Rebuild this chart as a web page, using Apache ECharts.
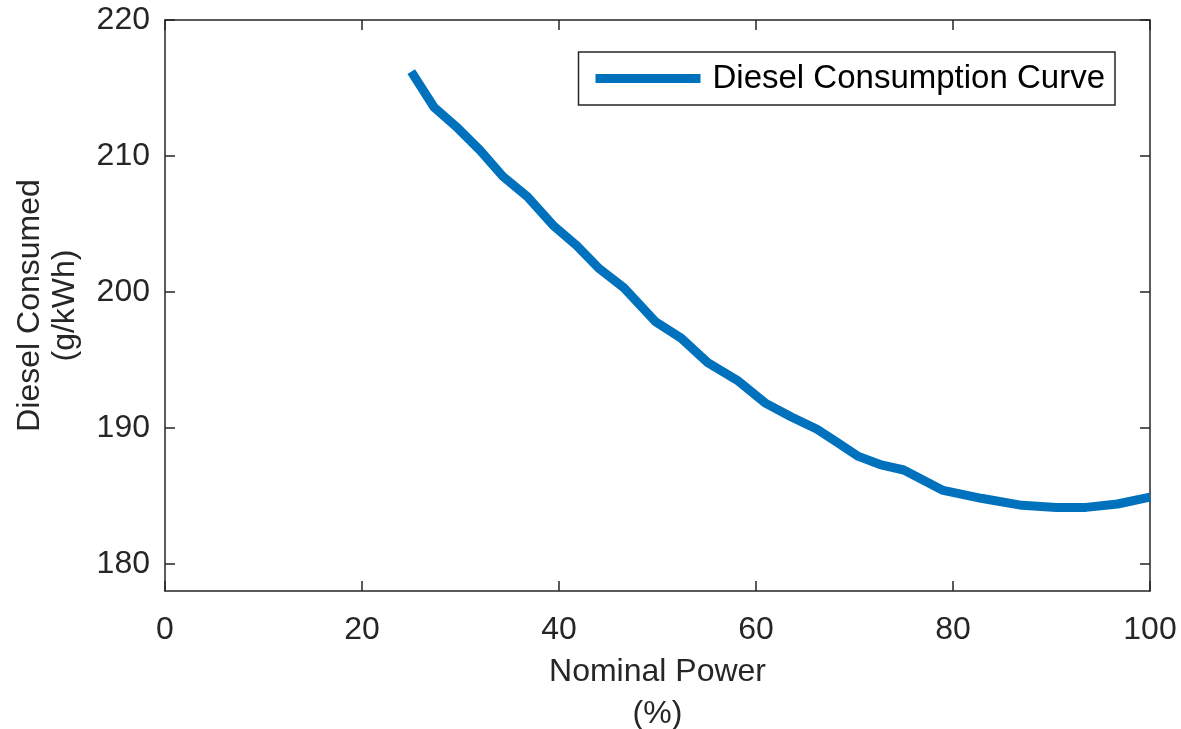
<!DOCTYPE html>
<html>
<head>
<meta charset="utf-8">
<script src="https://cdn.jsdelivr.net/npm/echarts@6/dist/echarts.min.js"></script>
<style>
  html, body { margin: 0; padding: 0; background: #fff; }
  #chart { width: 1181px; height: 729px; }
</style>
</head>
<body>
<div id="chart"></div>
<script>
// data
var powerPct = [25, 27.3, 29.5, 32, 34.3, 36.8, 39.4, 41.8, 44.1, 46.6, 49.8, 52.4, 55.1, 58.1, 61, 63.6, 66.2, 68.3, 70.4, 72.6, 75, 79, 83, 87, 90.5, 93.5, 96.7, 100];
var dieselGkWh = [216.2, 213.6, 212.2, 210.4, 208.5, 207.0, 204.9, 203.4, 201.7, 200.3, 197.8, 196.6, 194.8, 193.5, 191.8, 190.8, 189.9, 188.9, 187.9, 187.3, 186.9, 185.4, 184.8, 184.3, 184.15, 184.15, 184.4, 184.9];
var yTicks = [180, 190, 200, 210, 220];
var seriesName = 'Diesel Consumption Curve';

var axisColor = '#262626';
var font = 'Liberation Sans, Arial, sans-serif';

var points = powerPct.map(function (p, i) { return [p, dieselGkWh[i]]; });

var myChart = echarts.init(document.getElementById('chart'));
var option = {
    animation: false,
    grid: { left: 165, right: 31, top: 20, bottom: 138, containLabel: false, outerBoundsMode: 'none' },
    legend: {
        data: [seriesName],
        right: 66,
        top: 52,
        icon: 'rect',
        itemWidth: 105,
        itemHeight: 9,
        padding: [10, 10, 10, 17],
        borderColor: axisColor,
        borderWidth: 1.5,
        backgroundColor: '#fff',
        textStyle: { fontSize: 33, color: '#000', fontFamily: font, padding: [0, 0, 0, 7] }
    },
    xAxis: [{
        type: 'value',
        min: 0, max: 100, interval: 20,
        name: 'Nominal Power\n(%)',
        nameLocation: 'middle',
        nameGap: 59,
        nameTextStyle: { fontSize: 32, color: axisColor, fontFamily: font, lineHeight: 42 },
        axisLine: { show: true, onZero: false, lineStyle: { color: axisColor, width: 1.5 } },
        axisTick: { show: true, inside: true, length: 10, lineStyle: { color: axisColor, width: 1.5 } },
        axisLabel: { fontSize: 32, color: axisColor, fontFamily: font, margin: 23 },
        splitLine: { show: false }
    }, {
        type: 'value', position: 'top',
        min: 0, max: 100, interval: 20,
        axisLine: { show: true, onZero: false, lineStyle: { color: axisColor, width: 1.5 } },
        axisTick: { show: true, inside: true, length: 10, lineStyle: { color: axisColor, width: 1.5 } },
        axisLabel: { show: false },
        splitLine: { show: false }
    }],
    yAxis: [{
        type: 'value',
        min: 178, max: 220,
        name: 'Diesel Consumed\n(g/kWh)',
        nameLocation: 'middle',
        nameGap: 82,
        nameTextStyle: { fontSize: 32, color: axisColor, fontFamily: font, lineHeight: 35 },
        axisLine: { show: true, onZero: false, lineStyle: { color: axisColor, width: 1.5 } },
        axisTick: { show: true, inside: true, length: 10, customValues: yTicks, lineStyle: { color: axisColor, width: 1.5 } },
        axisLabel: { fontSize: 32, color: axisColor, fontFamily: font, margin: 15, customValues: yTicks },
        splitLine: { show: false }
    }, {
        type: 'value', position: 'right',
        min: 178, max: 220,
        axisLine: { show: true, onZero: false, lineStyle: { color: axisColor, width: 1.5 } },
        axisTick: { show: true, inside: true, length: 10, customValues: yTicks, lineStyle: { color: axisColor, width: 1.5 } },
        axisLabel: { show: false },
        splitLine: { show: false }
    }],
    series: [{
        name: seriesName,
        type: 'line',
        xAxisIndex: 0,
        yAxisIndex: 0,
        showSymbol: false,
        symbol: 'none',
        lineStyle: { width: 9, color: '#0072BD', join: 'round' },
        itemStyle: { color: '#0072BD' },
        data: points
    }]
};
myChart.setOption(option);
</script>
</body>
</html>
